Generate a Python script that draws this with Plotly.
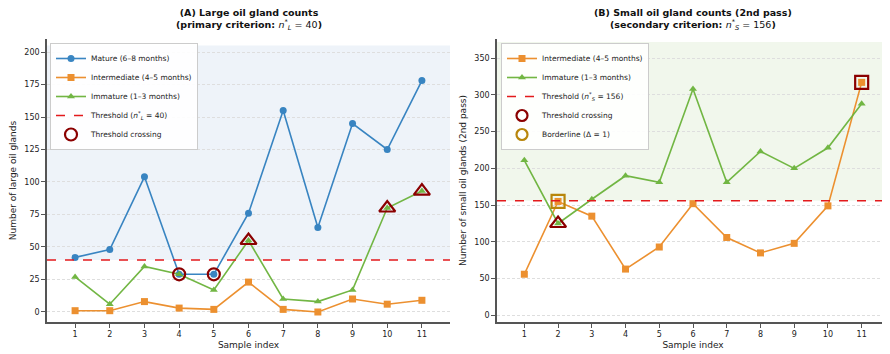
import plotly.graph_objects as go

samples = list(range(1, 12))

# Panel A: large oil gland counts
mature_L = [42, 48, 104, 29, 29, 76, 155, 65, 145, 125, 178]
inter_L = [1, 1, 8, 3, 2, 23, 2, 0, 10, 6, 9]
immat_L = [27, 6, 35, 29, 17, 55, 10, 8, 17, 80, 93]
thr_L = 40
cross_L_mature_x = [4, 5]
cross_L_immat_x = [6, 10, 11]

# Panel B: small oil gland counts (2nd pass)
inter_S = [56, 155, 135, 63, 93, 152, 106, 85, 98, 149, 317]
immat_S = [211, 125, 158, 190, 181, 308, 181, 223, 200, 228, 288]
thr_S = 156
cross_S_immat_x = [2]
cross_S_inter_x = [11]
border_S_inter_x = [2]

xlim = [0.19, 11.81]
ylim_L = [-7.7, 210]
ylim_S = [-9, 376]
shade_top_L = 205
shade_top_S = 372

BLUE = "#2f7fbf"
ORANGE = "#ec8b25"
GREEN = "#6bb33a"
RED = "#e31a1c"
DARKRED = "#8b0000"
GOLD = "#b8860b"
FONT = "DejaVu Sans"

fig = go.Figure()

def pick(xs, ys, sel):
    return [x for x in xs if x in sel], [ys[xs.index(x)] for x in xs if x in sel]

# ---- Panel A ----
fig.add_trace(go.Scatter(x=samples, y=mature_L, mode="lines+markers", name="Mature (6–8 months)",
                         line=dict(color=BLUE, width=1.6), marker=dict(symbol="circle", size=7, color=BLUE),
                         opacity=0.95, xaxis="x", yaxis="y", legend="legend", legendrank=1))
fig.add_trace(go.Scatter(x=samples, y=inter_L, mode="lines+markers", name="Intermediate (4–5 months)",
                         line=dict(color=ORANGE, width=1.6), marker=dict(symbol="square", size=7, color=ORANGE),
                         opacity=0.95, xaxis="x", yaxis="y", legend="legend", legendrank=2))
fig.add_trace(go.Scatter(x=samples, y=immat_L, mode="lines+markers", name="Immature (1–3 months)",
                         line=dict(color=GREEN, width=1.6), marker=dict(symbol="triangle-up", size=7, color=GREEN),
                         opacity=0.95, xaxis="x", yaxis="y", legend="legend", legendrank=3))
fig.add_trace(go.Scatter(x=[None], y=[None], mode="lines", name="Threshold (<i>n</i><sup>*</sup><sub><i>L</i></sub> = 40)",
                         line=dict(color=RED, width=1.5, dash="dash"),
                         xaxis="x", yaxis="y", legend="legend", legendrank=4))
cx, cy = pick(samples, mature_L, cross_L_mature_x)
fig.add_trace(go.Scatter(x=cx, y=cy, mode="markers", name="Threshold crossing",
                         marker=dict(symbol="circle-open", size=12, color=DARKRED, line=dict(width=2.2)),
                         xaxis="x", yaxis="y", legend="legend", legendrank=5))
cx, cy = pick(samples, immat_L, cross_L_immat_x)
fig.add_trace(go.Scatter(x=cx, y=cy, mode="markers", showlegend=False,
                         marker=dict(symbol="triangle-up-open", size=14, color=DARKRED, line=dict(width=2.2)),
                         xaxis="x", yaxis="y"))

# ---- Panel B ----
fig.add_trace(go.Scatter(x=samples, y=inter_S, mode="lines+markers", name="Intermediate (4–5 months)",
                         line=dict(color=ORANGE, width=1.6), marker=dict(symbol="square", size=7, color=ORANGE),
                         opacity=0.95, xaxis="x2", yaxis="y2", legend="legend2", legendrank=1))
fig.add_trace(go.Scatter(x=samples, y=immat_S, mode="lines+markers", name="Immature (1–3 months)",
                         line=dict(color=GREEN, width=1.6), marker=dict(symbol="triangle-up", size=7, color=GREEN),
                         opacity=0.95, xaxis="x2", yaxis="y2", legend="legend2", legendrank=2))
fig.add_trace(go.Scatter(x=[None], y=[None], mode="lines", name="Threshold (<i>n</i><sup>*</sup><sub><i>S</i></sub> = 156)",
                         line=dict(color=RED, width=1.5, dash="dash"),
                         xaxis="x2", yaxis="y2", legend="legend2", legendrank=3))
fig.add_trace(go.Scatter(x=[None], y=[None], mode="markers", name="Threshold crossing",
                         marker=dict(symbol="circle-open", size=11, color=DARKRED, line=dict(width=2.2)),
                         xaxis="x2", yaxis="y2", legend="legend2", legendrank=4))
fig.add_trace(go.Scatter(x=[None], y=[None], mode="markers", name="Borderline (Δ = 1)",
                         marker=dict(symbol="circle-open", size=11, color=GOLD, line=dict(width=2.2)),
                         xaxis="x2", yaxis="y2", legend="legend2", legendrank=5))
cx, cy = pick(samples, immat_S, cross_S_immat_x)
fig.add_trace(go.Scatter(x=cx, y=cy, mode="markers", showlegend=False,
                         marker=dict(symbol="triangle-up-open", size=14, color=DARKRED, line=dict(width=2.2)),
                         xaxis="x2", yaxis="y2"))
cx, cy = pick(samples, inter_S, cross_S_inter_x)
fig.add_trace(go.Scatter(x=cx, y=cy, mode="markers", showlegend=False,
                         marker=dict(symbol="square-open", size=13, color=DARKRED, line=dict(width=2.2)),
                         xaxis="x2", yaxis="y2"))
cx, cy = pick(samples, inter_S, border_S_inter_x)
fig.add_trace(go.Scatter(x=cx, y=cy, mode="markers", showlegend=False,
                         marker=dict(symbol="square-open", size=13, color=GOLD, line=dict(width=2.2)),
                         xaxis="x2", yaxis="y2"))

shapes = [
    dict(type="rect", xref="x domain", yref="y", x0=0, x1=1, y0=thr_L, y1=shade_top_L,
         fillcolor="#eef3f9", line=dict(width=0), layer="below"),
    dict(type="rect", xref="x2 domain", yref="y2", x0=0, x1=1, y0=thr_S, y1=shade_top_S,
         fillcolor="#f1f7ec", line=dict(width=0), layer="below"),
    dict(type="line", xref="x domain", yref="y", x0=0, x1=1, y0=thr_L, y1=thr_L,
         line=dict(color=RED, width=1.6, dash="dash"), layer="above"),
    dict(type="line", xref="x2 domain", yref="y2", x0=0, x1=1, y0=thr_S, y1=thr_S,
         line=dict(color=RED, width=1.6, dash="dash"), layer="above"),
]

axis_common = dict(showline=True, linecolor="#555555", linewidth=1.6, ticks="outside",
                   ticklen=4, tickwidth=1, tickcolor="#555555", automargin=False,
                   tickfont=dict(family=FONT, size=8, color="#222222"), zeroline=False)

# The page body adds an 8px offset, so the figure is 8px smaller and shifted.
W = 882.0
H = 346.0
OFF = 8
def px(v):
    return (v - OFF) / W

fig.update_layout(
    width=int(W), height=int(H),
    margin=dict(l=0, r=0, t=39 - OFF, b=32, autoexpand=False),
    plot_bgcolor="white", paper_bgcolor="white",
    font=dict(family=FONT, color="#222222"),
    showlegend=True,
    shapes=shapes,
    xaxis=dict(domain=[px(47), px(450)], range=xlim, tickvals=samples, showgrid=False,
               title=dict(text="Sample index", font=dict(family=FONT, size=9), standoff=3),
               anchor="y", **axis_common),
    yaxis=dict(range=ylim_L, tickvals=[0, 25, 50, 75, 100, 125, 150, 175, 200], showgrid=True,
               gridcolor="#dedede", griddash="3px,2px", gridwidth=0.8,
               title=dict(text="Number of large oil glands", font=dict(family=FONT, size=9), standoff=6),
               anchor="x", **axis_common),
    xaxis2=dict(domain=[px(497), px(889)], range=xlim, tickvals=samples, showgrid=False,
                title=dict(text="Sample index", font=dict(family=FONT, size=9), standoff=3),
                anchor="y2", **axis_common),
    yaxis2=dict(range=ylim_S, tickvals=[0, 50, 100, 150, 200, 250, 300, 350], showgrid=True,
                gridcolor="#dedede", griddash="3px,2px", gridwidth=0.8,
                title=dict(text="Number of small oil glands (2nd pass)", font=dict(family=FONT, size=9), standoff=6),
                anchor="x2", **axis_common),
    legend=dict(x=px(50), y=1 - 4 / 283.0, xref="paper", yref="paper", xanchor="left", yanchor="top",
                bgcolor="rgba(255,255,255,0.9)", bordercolor="#cccccc", borderwidth=1,
                font=dict(family=FONT, size=7.5), tracegroupgap=0, itemwidth=30),
    legend2=dict(x=px(501), y=1 - 4 / 283.0, xref="paper", yref="paper", xanchor="left", yanchor="top",
                 bgcolor="rgba(255,255,255,0.9)", bordercolor="#cccccc", borderwidth=1,
                 font=dict(family=FONT, size=7.5), tracegroupgap=0, itemwidth=30),
    annotations=[
        dict(text="<b>(A) Large oil gland counts</b><br><b>(primary criterion: </b><i>n</i><sup>*</sup><sub><i>L</i></sub> = 40<b>)</b>",
             x=(px(47) + px(450)) / 2, y=1, xref="paper", yref="paper", xanchor="center", yanchor="bottom",
             yshift=5, showarrow=False, font=dict(family=FONT, size=9.5, color="#111111")),
        dict(text="<b>(B) Small oil gland counts (2nd pass)</b><br><b>(secondary criterion: </b><i>n</i><sup>*</sup><sub><i>S</i></sub> = 156<b>)</b>",
             x=(px(497) + px(889)) / 2, y=1, xref="paper", yref="paper", xanchor="center", yanchor="bottom",
             yshift=5, showarrow=False, font=dict(family=FONT, size=9.5, color="#111111")),
    ],
)

fig.write_html("out.html")
